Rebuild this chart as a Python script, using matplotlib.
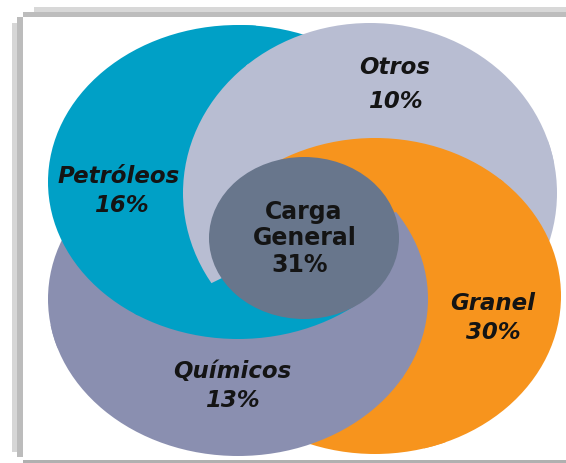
import numpy as np
import matplotlib
matplotlib.use("Agg")
import matplotlib.pyplot as plt
from matplotlib.patches import Ellipse, Wedge, Rectangle

# ---------------- data ----------------
categories = ["Petróleos", "Otros", "Granel", "Químicos", "Carga General"]
shares = [16, 10, 30, 13, 31]

# ---------------- layout / style ----------------
W, H = 566, 463
colors = {"Petróleos": "#00A0C6", "Otros": "#B8BDD2", "Granel": "#F7941D",
          "Químicos": "#8A8FB0", "Carga General": "#68768C"}
# ellipse geometry in pixel units: (cx, cy, width, height)
geom = {"Petróleos": (238, 182, 380, 314),
        "Otros": (370, 193, 374, 340),
        "Granel": (375, 296, 372, 316),
        "Químicos": (238, 299, 380, 314),
        "Carga General": (304, 238, 190, 162)}
# label baselines: (x of name, y of name, x of %, y of %)
label_pos = {"Petróleos": (119, 183, 121, 212), "Otros": (395, 74, 395, 108),
             "Granel": (493, 310, 493, 339), "Químicos": (232, 378, 232, 407)}

fig = plt.figure(figsize=(W / 100, H / 100), dpi=100)
ax = fig.add_axes([0, 0, 1, 1])
ax.set_xlim(0, W)
ax.set_ylim(H, 0)
ax.axis("off")

# frame / shadow
frame = [((34, 7), W - 34, 5, "#d8d8d8"), ((23, 12), W - 23, 5, "#bdbdbd"),
         ((12, 23), 5, 429, "#d6d6d6"), ((17, 17), 6, 440, "#bcbcbc"),
         ((23, 460), W - 23, 3, "#b0b0b0")]
for xy, w, h, c in frame:
    ax.add_patch(Rectangle(xy, w, h, facecolor=c, edgecolor="none", zorder=0))

cx0, cy0, cw0, ch0 = geom["Carga General"]


def ray_angle(name, hint):
    cx, cy, w, h = geom[name]
    t = np.linspace(0, 2 * np.pi, 7200, endpoint=False)
    x = cx + w / 2 * np.cos(t)
    y = cy + h / 2 * np.sin(t)
    f = ((x - cx0) / (cw0 / 2)) ** 2 + ((y - cy0) / (ch0 / 2)) ** 2 - 1
    idx = np.where(np.sign(f) != np.sign(np.roll(f, -1)))[0]
    if len(idx) == 0:
        return hint
    angs = np.degrees(np.arctan2(y[idx] - cy0, x[idx] - cx0)) % 360
    d = np.abs((angs - hint + 180) % 360 - 180)
    return angs[np.argmin(d)]


aQ = ray_angle("Químicos", 346)
aP = ray_angle("Petróleos", 60)
aO = ray_angle("Otros", 158)
aG = ray_angle("Granel", 253)

# swirl: in each angular sector the stacking order rotates (top-most first)
sectors = [(aQ, aP, ["Químicos", "Granel", "Otros", "Petróleos"]),
           (aP, aO, ["Petróleos", "Químicos", "Granel", "Otros"]),
           (aO, aG, ["Otros", "Petróleos", "Químicos", "Granel"]),
           (aG, aQ, ["Granel", "Otros", "Petróleos", "Químicos"])]
# higher layers reach a little further past the sector edges -> no seams
spread = [4.0, 3.0, 2.0, 1.0]

for t1, t2, order in sectors:
    for rank in range(len(order) - 1, -1, -1):
        name = order[rank]
        dlt = spread[rank]
        wedge = Wedge((cx0, cy0), 2000, t1 - dlt, t2 + dlt,
                      transform=ax.transData)
        cx, cy, w, h = geom[name]
        e = Ellipse((cx, cy), w, h, facecolor=colors[name], edgecolor="none",
                    zorder=1)
        ax.add_patch(e)
        e.set_clip_path(wedge)

ax.add_patch(Ellipse((cx0, cy0), cw0, ch0, facecolor=colors["Carga General"],
                     edgecolor="none", zorder=5))

txt = dict(fontsize=16.5, fontweight="bold", fontstyle="italic",
           family="DejaVu Sans", color="#141414", ha="center",
           va="baseline", zorder=10)
for name, val in zip(categories, shares):
    if name == "Carga General":
        ctr = dict(fontsize=17, fontweight="bold", family="DejaVu Sans",
                   color="#141414", ha="center", va="baseline", zorder=10)
        ax.text(304, 219, "Carga", **ctr)
        ax.text(305, 245, "General", **ctr)
        ax.text(300, 272, "%d%%" % val, **ctr)
    else:
        x1, y1, x2, y2 = label_pos[name]
        ax.text(x1, y1, name, **txt)
        ax.text(x2, y2, "%d%%" % val, **txt)

fig.savefig("out.png", dpi=100)
